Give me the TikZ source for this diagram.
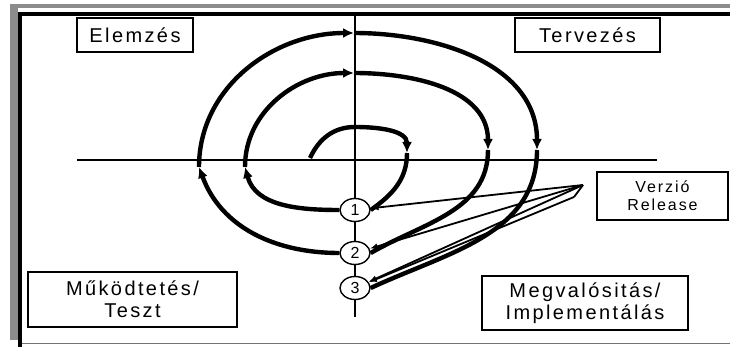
\documentclass[tikz,border=0pt]{standalone}
\usepackage{fontspec}
\setmainfont{Liberation Sans}
\newfontfamily\screenfont[LetterSpace=12]{Liberation Sans}
\usetikzlibrary{arrows.meta,shapes.geometric}

\begin{document}
\begin{tikzpicture}[
    x=1pt,y=1pt,
    >=Latex,
    spiral/.style={draw=black, line width=4.4pt},
    sparrow/.style={spiral, -{Latex[length=11pt,width=10pt]}},
    axis/.style={draw=black, line width=2.8pt},
    phase/.style={
        rectangle,
        draw=black,
        line width=1.6pt,
        fill=white,
        align=center,
        inner sep=0pt,
        font=\screenfont\fontsize{20}{22}\selectfont
    },
    relnum/.style={
        ellipse,
        draw=black,
        line width=1.4pt,
        fill=white,
        minimum width=30pt,
        minimum height=23pt,
        inner sep=0pt,
        font=\screenfont\fontsize{16}{16}\selectfont
    },
    leader/.style={draw=black, line width=1.8pt, -{Latex[length=8pt,width=6pt]}}
]

% ===== canvas and window frame =====
\fill[white] (0,0) rectangle (730,-347);
\useasboundingbox (0,0) rectangle (730,-347);
\fill[black!45] (10,-4) rectangle (730,-8);
\fill[black!45] (10,-4) rectangle (18,-340);
\fill[black] (18,-12) rectangle (730,-16);
\fill[black] (18,-12) rectangle (22,-347);
\draw[black!55, line width=1pt] (22,-343) -- (730,-343);

% ===== axes =====
\coordinate (hl) at (77,-160);
\coordinate (hr) at (657,-160);
\coordinate (vt) at (355,-16);
\coordinate (vb) at (355,-317);
\draw[axis] (hl) -- (hr);
\draw[axis] (vt) -- (vb);

% ===== release points =====
\node[relnum] (r1) at (355,-210) {1};
\node[relnum] (r2) at (355,-253) {2};
\node[relnum] (r3) at (355,-288) {3};

% ===== spiral crossing points =====
\coordinate (s0) at (310,-158);
\coordinate (t0) at (355,-127);
\coordinate (t1) at (354,-73);
\coordinate (t2) at (354,-33);
\coordinate (l1) at (245,-167);
\coordinate (l2) at (199,-167);
\coordinate (x0) at (407,-153);
\coordinate (x1) at (488,-150);
\coordinate (x2) at (537,-150);

% inner turn
\draw[sparrow] (s0) to[out=65,in=180] (t0) to[out=0,in=90] (x0);
\draw[spiral] (x0) to[out=-90,in=35] (r1.east);

% second turn
\draw[sparrow] (r1.west) to[out=180,in=-75] (l1);
\draw[sparrow] (l1) to[out=90,in=180] (t1);
\draw[sparrow] (t1) to[out=0,in=90] (x1);
\draw[spiral] (x1) to[out=-90,in=30] (r2.east);

% outer turn
\draw[sparrow] (r2.west) to[out=180,in=-70] (l2);
\draw[sparrow] (l2) to[out=90,in=180] (t2);
\draw[sparrow] (t2) to[out=0,in=90] (x2);
\draw[spiral] (x2) to[out=-90,in=25] (r3.east);

% ===== phase labels =====
\node[phase, minimum width=116pt, minimum height=34pt] (elem) at (135,-35) {Elemzés};
\node[phase, minimum width=145pt, minimum height=34pt] (terv) at (587.5,-35) {Tervezés};
\node[phase, minimum width=209pt, minimum height=55pt] (mukod) at (132.5,-299.5)
  {Működtetés/\\Teszt};
\node[phase, minimum width=206pt, minimum height=54pt] (megv) at (585,-303)
  {Megvalósitás/\\Implementálás};
\node[phase, minimum width=131pt, minimum height=48pt,
      font=\screenfont\fontsize{16}{18}\selectfont] (verz) at (662.5,-196)
  {Verzió\\Release};

% ===== release leaders =====
\coordinate (vr1) at (583,-185);
\coordinate (vr2) at (574,-197);
\draw[line width=1.8pt] (vr1) -- (vr2);
\draw[leader] (vr1) -- (r1);
\draw[leader] (vr1) -- (r2);
\draw[leader] (vr1) -- (r3);
\draw[leader] (vr2) -- (r3);
\end{tikzpicture}
\end{document}
